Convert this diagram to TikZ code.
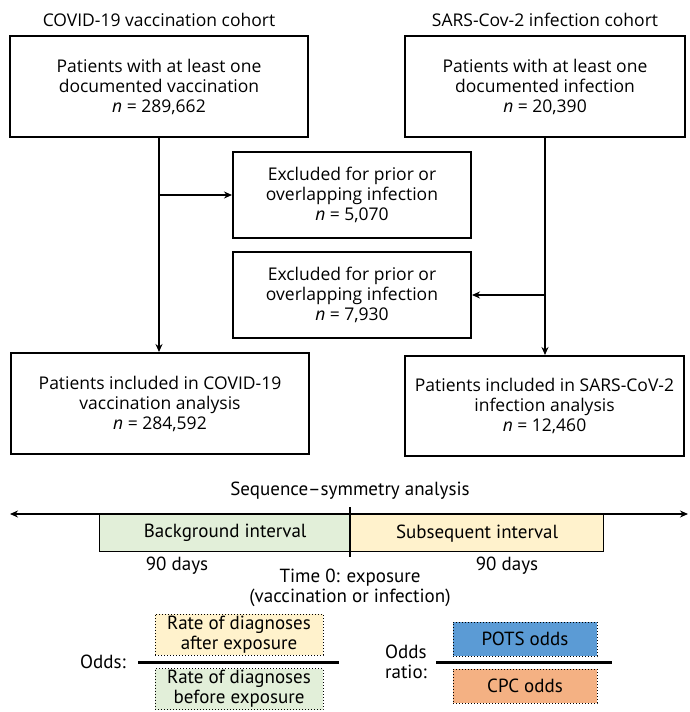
\documentclass[tikz,border=0pt]{standalone}
\usepackage{fontspec}
\setmainfont{Open Sans}
\newfontfamily\condfont{PT Sans}
\usetikzlibrary{arrows.meta}
\definecolor{bggreen}{HTML}{E2EFD9}
\definecolor{subyellow}{HTML}{FFF2CC}
\definecolor{potsblue}{HTML}{5B9BD5}
\definecolor{cpcorange}{HTML}{F4B183}
\tikzset{
  flowbox/.style={draw, line width=2pt, align=center, inner sep=0pt,
    font=\fontsize{17.5}{20}\selectfont},
  flowarrow/.style={line width=2.2pt, -{Stealth[length=8pt,width=7pt]}},
  title/.style={font=\fontsize{17.5}{20}\selectfont},
  seqtext/.style={font=\condfont\fontsize{19}{20}\selectfont, align=center},
  intervalbox/.style={draw, line width=1.3pt, inner sep=0pt},
  dotbox/.style={draw, dotted, line width=1pt, inner sep=0pt, align=center,
    font=\condfont\fontsize{19}{20}\selectfont},
  fracline/.style={line width=3pt},
}
\begin{document}
\begin{tikzpicture}[x=1pt,y=-1pt]
\useasboundingbox (0,0) rectangle (689,712);
% titles
\node[title] (t1) at (159,20) {COVID-19 vaccination cohort};
\node[title] (t2) at (545,20) {SARS-Cov-2 infection cohort};
% boxes
\node[flowbox, minimum width=298pt, minimum height=101pt] (tl) at (159,86.5)
  {Patients with at least one\\documented vaccination\\\textit{n} = 289,662};
\node[flowbox, minimum width=280pt, minimum height=101pt] (tr) at (545,86.5)
  {Patients with at least one\\documented infection\\\textit{n} = 20,390};
\node[flowbox, minimum width=238pt, minimum height=86pt] (e1) at (352,195)
  {Excluded for prior or\\overlapping infection\\\textit{n} = 5,070};
\node[flowbox, minimum width=238pt, minimum height=86pt] (e2) at (352,295)
  {Excluded for prior or\\overlapping infection\\\textit{n} = 7,930};
\node[flowbox, minimum width=298pt, minimum height=101pt, anchor=north west] (bl) at (10,352)
  {Patients included in COVID-19\\vaccination analysis\\\textit{n} = 284,592};
\node[flowbox, minimum width=279pt, minimum height=100pt, anchor=north west] (br) at (404,355)
  {Patients included in SARS-CoV-2\\infection analysis\\\textit{n} = 12,460};
% connectors
\draw[flowarrow] (tl.south) -- (tl.south |- bl.north);
\draw[flowarrow] (tl.south |- e1.west) -- (e1.west);
\draw[flowarrow] (tr.south) -- (tr.south |- br.north);
\draw[flowarrow] (tr.south |- e2.east) -- (e2.east);
% sequence symmetry
\node[seqtext] (seqt) at (350,491) {Sequence–symmetry analysis};
\node[intervalbox, fill=bggreen, minimum width=251pt, minimum height=37pt, anchor=north west] (bg) at (99,514) {};
\node[intervalbox, fill=subyellow, minimum width=253pt, minimum height=37pt, anchor=north west] (sb) at (350,514) {};
\node[seqtext] (bgt) at (bg.center) {Background interval};
\node[seqtext] (sbt) at (sb.center) {Subsequent interval};
\coordinate (tlft) at (10,514);
\coordinate (trgt) at (688,514);
\draw[line width=2.2pt, {Stealth[length=8pt,width=7pt]}-{Stealth[length=8pt,width=7pt]}] (tlft) -- (trgt);
\coordinate (tick1) at (350,507);
\coordinate (tick2) at (350,557);
\draw[line width=2pt] (tick1) -- (tick2);
\node[seqtext] (d1) at (177,566) {90 days};
\node[seqtext] (d2) at (507,566) {90 days};
\node[seqtext] (t0) at (350,588) {Time 0: exposure\\(vaccination or infection)};
% odds
\node[dotbox, fill=subyellow, minimum width=168pt, minimum height=41pt] (ra) at (239,634.5)
  {Rate of diagnoses\\after exposure};
\node[dotbox, fill=bggreen, minimum width=168pt, minimum height=41pt] (rb) at (239,689)
  {Rate of diagnoses\\before exposure};
\coordinate (f1a) at (138,662);
\coordinate (f1b) at (339,662);
\draw[fracline] (f1a) -- (f1b);
\node[seqtext] (oddsl) at (103,662) {Odds:};
\node[dotbox, fill=potsblue, minimum width=144pt, minimum height=34pt] (pots) at (525,639) {POTS odds};
\node[dotbox, fill=cpcorange, minimum width=144pt, minimum height=34pt] (cpc) at (525,686) {CPC odds};
\coordinate (f2a) at (436,662);
\coordinate (f2b) at (612,662);
\draw[fracline] (f2a) -- (f2b);
\node[seqtext, align=left] (orl) at (406,662) {Odds\\ratio:};
\end{tikzpicture}
\end{document}
